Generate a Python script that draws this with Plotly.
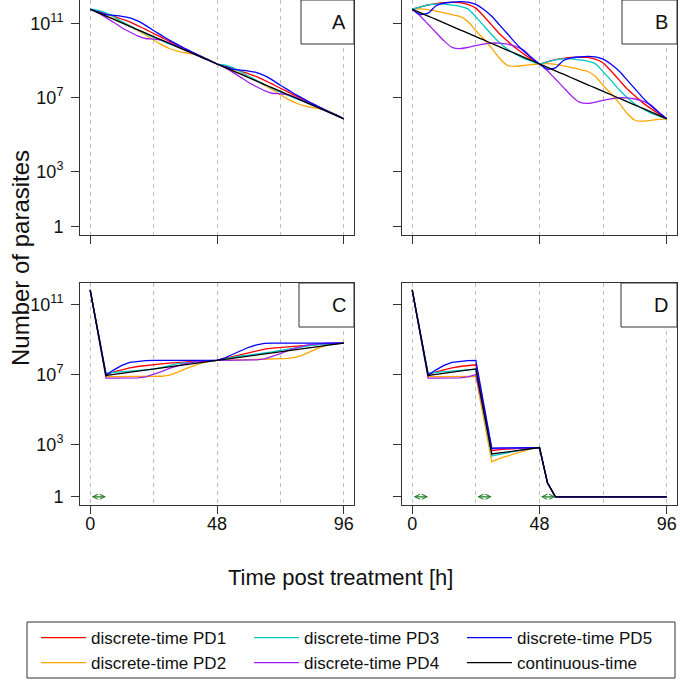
import plotly.graph_objects as go

# time grid (hours post treatment)
hours = [0, 3, 6, 9, 12, 15, 18, 21, 24, 27, 30, 33, 36, 39, 42, 45, 48,
         51, 54, 57, 60, 63, 66, 69, 72, 75, 78, 81, 84, 87, 90, 93, 96]

series_names = ['discrete-time PD1', 'discrete-time PD2', 'discrete-time PD3',
                'discrete-time PD4', 'discrete-time PD5', 'continuous-time']
series_colors = ['#FF0000', '#FFA500', '#00C8C8', '#A020F0', '#0000FF', '#000000']
legend_ranks = [1, 4, 2, 5, 3, 6]

# log10(number of parasites)
a_pd1 = [11.76, 11.64, 11.51, 11.38, 11.23, 11.08, 10.88, 10.67, 10.45, 10.24, 10.02, 9.82, 9.61, 9.41, 9.20, 9.00, 8.80,
         8.68, 8.55, 8.42, 8.27, 8.12, 7.92, 7.71, 7.49, 7.28, 7.06, 6.86, 6.65, 6.45, 6.24, 6.04, 5.84]
a_pd2 = [11.76, 11.59, 11.41, 11.24, 11.05, 10.86, 10.62, 10.37, 10.10, 9.85, 9.64, 9.50, 9.41, 9.34, 9.23, 9.04, 8.80,
         8.63, 8.45, 8.28, 8.09, 7.90, 7.66, 7.41, 7.14, 6.89, 6.68, 6.54, 6.45, 6.38, 6.27, 6.08, 5.84]
a_pd3 = [11.76, 11.70, 11.56, 11.34, 11.10, 10.87, 10.65, 10.44, 10.24, 10.06, 9.89, 9.73, 9.56, 9.39, 9.19, 9.00, 8.80,
         8.74, 8.60, 8.38, 8.14, 7.91, 7.69, 7.48, 7.28, 7.10, 6.93, 6.77, 6.60, 6.43, 6.23, 6.04, 5.84]
a_pd4 = [11.76, 11.56, 11.31, 11.04, 10.76, 10.53, 10.32, 10.18, 10.15, 10.09, 9.95, 9.77, 9.56, 9.36, 9.17, 8.99, 8.80,
         8.60, 8.35, 8.08, 7.80, 7.57, 7.36, 7.22, 7.19, 7.13, 6.99, 6.81, 6.60, 6.40, 6.21, 6.03, 5.84]
a_pd5 = [11.76, 11.61, 11.47, 11.43, 11.38, 11.30, 11.13, 10.89, 10.61, 10.35, 10.09, 9.86, 9.63, 9.42, 9.21, 9.01, 8.80,
         8.65, 8.51, 8.47, 8.42, 8.34, 8.17, 7.93, 7.65, 7.39, 7.13, 6.90, 6.67, 6.46, 6.25, 6.05, 5.84]
a_cont = [11.76, 11.58, 11.39, 11.21, 11.02, 10.84, 10.65, 10.47, 10.28, 10.10, 9.91, 9.73, 9.54, 9.36, 9.17, 8.99, 8.80,
          8.62, 8.43, 8.25, 8.06, 7.88, 7.69, 7.51, 7.32, 7.14, 6.95, 6.77, 6.58, 6.40, 6.21, 6.03, 5.84]

b_pd1 = [11.76, 11.88, 12.00, 12.07, 12.12, 12.13, 12.12, 12.02, 11.82, 11.38, 10.90, 10.42, 10.03, 9.66, 9.35, 9.06, 8.80,
         8.92, 9.04, 9.11, 9.16, 9.17, 9.16, 9.06, 8.86, 8.42, 7.94, 7.46, 7.07, 6.70, 6.39, 6.10, 5.84]
b_pd2 = [11.76, 11.78, 11.74, 11.66, 11.57, 11.47, 11.37, 11.10, 10.60, 10.15, 9.66, 9.10, 8.72, 8.67, 8.72, 8.77, 8.80,
         8.82, 8.78, 8.70, 8.61, 8.51, 8.41, 8.14, 7.64, 7.19, 6.70, 6.14, 5.76, 5.71, 5.76, 5.81, 5.84]
b_pd3 = [11.76, 11.88, 11.99, 12.04, 12.04, 11.98, 11.92, 11.78, 11.35, 10.87, 10.38, 9.95, 9.60, 9.33, 9.11, 8.95, 8.80,
         8.92, 9.03, 9.08, 9.08, 9.02, 8.96, 8.82, 8.39, 7.91, 7.42, 6.99, 6.64, 6.37, 6.15, 5.99, 5.84]
b_pd4 = [11.76, 11.40, 10.95, 10.50, 10.05, 9.70, 9.63, 9.70, 9.80, 9.88, 9.93, 9.93, 9.87, 9.75, 9.55, 9.15, 8.80,
         8.44, 7.99, 7.54, 7.09, 6.74, 6.67, 6.74, 6.84, 6.92, 6.97, 6.97, 6.91, 6.79, 6.59, 6.19, 5.84]
b_pd5 = [11.76, 11.48, 11.55, 11.95, 12.09, 12.14, 12.17, 12.15, 12.02, 11.75, 11.38, 10.90, 10.42, 9.93, 9.50, 9.14, 8.80,
         8.52, 8.59, 8.99, 9.13, 9.18, 9.21, 9.19, 9.06, 8.79, 8.42, 7.94, 7.46, 6.97, 6.54, 6.18, 5.84]
b_cont = [11.76, 11.58, 11.39, 11.21, 11.02, 10.84, 10.65, 10.47, 10.28, 10.10, 9.91, 9.73, 9.54, 9.36, 9.17, 8.99, 8.80,
          8.62, 8.43, 8.25, 8.06, 7.88, 7.69, 7.51, 7.32, 7.14, 6.95, 6.77, 6.58, 6.40, 6.21, 6.03, 5.84]

c_pd1 = [11.85, 9.43, 7.00, 7.15, 7.28, 7.38, 7.46, 7.52, 7.56, 7.61, 7.65, 7.69, 7.73, 7.76, 7.78, 7.80, 7.81,
         7.93, 8.04, 8.15, 8.27, 8.38, 8.45, 8.51, 8.55, 8.60, 8.64, 8.68, 8.71, 8.74, 8.77, 8.79, 8.80]
c_pd2 = [11.85, 9.37, 6.88, 6.88, 6.88, 6.88, 6.88, 6.88, 6.89, 6.90, 6.97, 7.12, 7.32, 7.50, 7.65, 7.75, 7.81,
         7.81, 7.82, 7.83, 7.84, 7.85, 7.86, 7.87, 7.88, 7.92, 8.00, 8.15, 8.35, 8.55, 8.70, 8.77, 8.80]
c_pd3 = [11.85, 9.47, 7.08, 7.12, 7.16, 7.20, 7.24, 7.27, 7.31, 7.40, 7.52, 7.62, 7.67, 7.70, 7.74, 7.78, 7.81,
         7.90, 7.99, 8.06, 8.11, 8.16, 8.22, 8.30, 8.38, 8.46, 8.54, 8.61, 8.67, 8.72, 8.76, 8.78, 8.80]
c_pd4 = [11.85, 9.33, 6.80, 6.79, 6.79, 6.79, 6.81, 6.87, 7.00, 7.17, 7.35, 7.50, 7.63, 7.71, 7.76, 7.79, 7.81,
         7.81, 7.81, 7.81, 7.82, 7.84, 7.90, 8.04, 8.20, 8.38, 8.54, 8.66, 8.73, 8.77, 8.79, 8.80, 8.80]
c_pd5 = [11.85, 9.41, 6.97, 7.27, 7.52, 7.70, 7.77, 7.80, 7.81, 7.81, 7.81, 7.81, 7.81, 7.81, 7.81, 7.81, 7.81,
         7.96, 8.15, 8.35, 8.56, 8.70, 8.78, 8.80, 8.80, 8.80, 8.80, 8.80, 8.80, 8.80, 8.80, 8.80, 8.80]
c_cont = [11.85, 9.40, 6.95, 7.01, 7.07, 7.14, 7.20, 7.26, 7.32, 7.38, 7.44, 7.50, 7.56, 7.63, 7.69, 7.75, 7.81,
          7.87, 7.93, 7.99, 8.06, 8.12, 8.18, 8.24, 8.30, 8.37, 8.43, 8.49, 8.55, 8.61, 8.68, 8.74, 8.80]

d_pd1 = [11.85, 9.43, 7.00, 7.15, 7.28, 7.38, 7.46, 7.52, 7.56, 5.10, 2.64, 2.70, 2.74, 2.77, 2.79, 2.81, 2.82,
         0.80, 0, 0, 0, 0, 0, 0, 0, 0, 0, 0, 0, 0, 0, 0, 0]
d_pd2 = [11.85, 9.37, 6.88, 6.88, 6.88, 6.88, 6.88, 6.88, 6.89, 4.45, 2.00, 2.20, 2.35, 2.50, 2.65, 2.76, 2.82,
         0.80, 0, 0, 0, 0, 0, 0, 0, 0, 0, 0, 0, 0, 0, 0, 0]
d_pd3 = [11.85, 9.47, 7.08, 7.12, 7.16, 7.20, 7.24, 7.27, 7.31, 4.82, 2.33, 2.43, 2.53, 2.62, 2.70, 2.77, 2.82,
         0.80, 0, 0, 0, 0, 0, 0, 0, 0, 0, 0, 0, 0, 0, 0, 0]
d_pd4 = [11.85, 9.33, 6.80, 6.79, 6.79, 6.79, 6.81, 6.87, 7.00, 4.87, 2.74, 2.76, 2.78, 2.79, 2.80, 2.81, 2.82,
         0.80, 0, 0, 0, 0, 0, 0, 0, 0, 0, 0, 0, 0, 0, 0, 0]
d_pd5 = [11.85, 9.41, 6.97, 7.27, 7.52, 7.70, 7.77, 7.80, 7.81, 5.30, 2.78, 2.80, 2.81, 2.82, 2.82, 2.82, 2.82,
         0.80, 0, 0, 0, 0, 0, 0, 0, 0, 0, 0, 0, 0, 0, 0, 0]
d_cont = [11.85, 9.40, 6.95, 7.01, 7.07, 7.14, 7.20, 7.26, 7.32, 4.89, 2.45, 2.51, 2.57, 2.64, 2.70, 2.76, 2.82,
          0.80, 0, 0, 0, 0, 0, 0, 0, 0, 0, 0, 0, 0, 0, 0, 0]

# drug exposure windows (h) shown as green arrows
dose_windows_c = [(0, 6)]
dose_windows_d = [(0, 6), (24, 30), (48, 54)]

x_ticks = [0, 48, 96]
x_minor = [24, 72]
y_ticks = [1, 1e3, 1e7, 1e11]
y_ticktext = ['1', '10<sup>3</sup>', '10<sup>7</sup>', '10<sup>11</sup>']

FONT = 'Liberation Sans, Arial, sans-serif'
AXCOL = '#333333'
GRIDCOL = '#BEBEBE'
W = 680

panels = [
    ('A', 'x', 'y', [a_pd1, a_pd2, a_pd3, a_pd4, a_pd5, a_cont], 'spline'),
    ('B', 'x2', 'y2', [b_pd1, b_pd2, b_pd3, b_pd4, b_pd5, b_cont], 'spline'),
    ('C', 'x3', 'y3', [c_pd1, c_pd2, c_pd3, c_pd4, c_pd5, c_cont], 'linear'),
    ('D', 'x4', 'y4', [d_pd1, d_pd2, d_pd3, d_pd4, d_pd5, d_cont], 'linear'),
]

fig = go.Figure()

for p, (label, xa, ya, series, shape) in enumerate(panels):
    for i, vals in enumerate(series):
        fig.add_trace(go.Scatter(
            x=hours,
            y=[10 ** v for v in vals],
            mode='lines',
            line=dict(color=series_colors[i], width=1.3, shape=shape, smoothing=0.6),
            name=series_names[i],
            legendgroup=series_names[i],
            legendrank=legend_ranks[i],
            showlegend=(p == 0),
            xaxis=xa,
            yaxis=ya,
            hoverinfo='skip',
        ))


def x_axis(domain, anchor, labels):
    return dict(
        domain=domain, anchor=anchor, range=[-3.84, 99.84], automargin=False,
        tickmode='array', tickvals=x_ticks, showticklabels=labels,
        ticks='outside', ticklen=8, tickwidth=1, tickcolor=AXCOL,
        showline=True, linecolor=AXCOL, linewidth=1, mirror=True,
        showgrid=True, gridcolor=GRIDCOL, gridwidth=1, griddash='4px,4px',
        minor=dict(tickmode='array', tickvals=x_minor, showgrid=True, gridcolor=GRIDCOL,
                   gridwidth=1, griddash='4px,4px', ticks=''),
        zeroline=False, tickfont=dict(size=18, color='#111111'),
        ticklabelstandoff=-6,
    )


def y_axis(domain, anchor, labels, rng):
    return dict(
        domain=domain, anchor=anchor, type='log', range=rng, automargin=False,
        tickmode='array', tickvals=y_ticks, ticktext=y_ticktext, showticklabels=labels,
        ticks='outside', ticklen=8, tickwidth=1, tickcolor=AXCOL,
        showline=True, linecolor=AXCOL, linewidth=1, mirror=True,
        showgrid=False, zeroline=False, tickfont=dict(size=18, color='#111111'),
        ticklabelstandoff=4,
    )


left = [80 / W, 354 / W]
right = [402 / W, 677 / W]
top = [1 - 235 / W, 1.0]
bottom = [1 - 505 / W, 1 - 283 / W]

annotations = []
shapes = []

# panel letter boxes
letter_boxes = [
    ('A', 301, 354, 0, 44, 339, 22),
    ('B', 622, 677, 0, 44, 661, 22),
    ('C', 299, 354, 283, 327, 339, 305),
    ('D', 621, 677, 283, 327, 661, 305),
]
for txt, x0, x1, y0, y1, tx, ty in letter_boxes:
    shapes.append(dict(type='rect', xref='paper', yref='paper',
                       x0=x0 / W, x1=x1 / W, y0=1 - y1 / W, y1=1 - y0 / W,
                       line=dict(color=AXCOL, width=1), fillcolor='white', layer='above'))
    annotations.append(dict(text=txt, x=tx / W, y=1 - ty / W, xref='paper', yref='paper',
                            xanchor='center', yanchor='middle',
                            showarrow=False, font=dict(size=20, color='#111111')))

# frame around the legend
shapes.append(dict(type='rect', xref='paper', yref='paper',
                   x0=27 / W, x1=675 / W, y0=1 - 678 / W, y1=1 - 622 / W,
                   line=dict(color=AXCOL, width=1), fillcolor='rgba(0,0,0,0)', layer='below'))

# drug exposure arrows
for xa, ya, windows in [('x3', 'y3', dose_windows_c), ('x4', 'y4', dose_windows_d)]:
    for t0, t1 in windows:
        annotations.append(dict(
            x=t1, y=0, ax=t0, ay=0, xref=xa, yref=ya, axref=xa, ayref=ya,
            text='', showarrow=True, arrowside='end+start', arrowhead=5, startarrowhead=5,
            arrowsize=0.85, startarrowsize=0.85, arrowwidth=1.2, arrowcolor='#1E7B1E',
        ))

annotations.append(dict(text='Number of parasites', textangle=-90, x=20 / W, y=1 - 258 / W,
                        xref='paper', yref='paper', xanchor='center', yanchor='middle',
                        showarrow=False, font=dict(size=24, color='#111111')))
annotations.append(dict(text='Time post treatment [h]', x=0.5, y=1 - 577 / W,
                        xref='paper', yref='paper', xanchor='center', yanchor='middle',
                        showarrow=False, font=dict(size=22, color='#111111')))

fig.update_layout(
    width=W, height=W,
    margin=dict(l=0, r=0, t=0, b=0, autoexpand=False),
    paper_bgcolor='white', plot_bgcolor='white',
    font=dict(family=FONT, size=18, color='#111111'),
    xaxis=x_axis(left, 'y', False),
    yaxis=y_axis(top, 'x', True, [-0.44, 12.26]),
    xaxis2=x_axis(right, 'y2', False),
    yaxis2=y_axis(top, 'x2', False, [-0.44, 12.26]),
    xaxis3=x_axis(left, 'y3', True),
    yaxis3=y_axis(bottom, 'x3', True, [-0.47, 12.24]),
    xaxis4=x_axis(right, 'y4', True),
    yaxis4=y_axis(bottom, 'x4', False, [-0.47, 12.24]),
    shapes=shapes,
    annotations=annotations,
    legend=dict(
        orientation='h', x=36 / W, xanchor='left', y=1 - 620 / W, yanchor='top',
        borderwidth=0, bgcolor='rgba(0,0,0,0)',
        font=dict(size=17), entrywidth=153, entrywidthmode='pixels', itemwidth=45,
        traceorder='normal',
    ),
    showlegend=True,
)

# drop the default page margin so the 680x680 figure fills the window
fig.write_html('out.html', config={'displayModeBar': False},
               post_script="document.body.style.margin='0';")
